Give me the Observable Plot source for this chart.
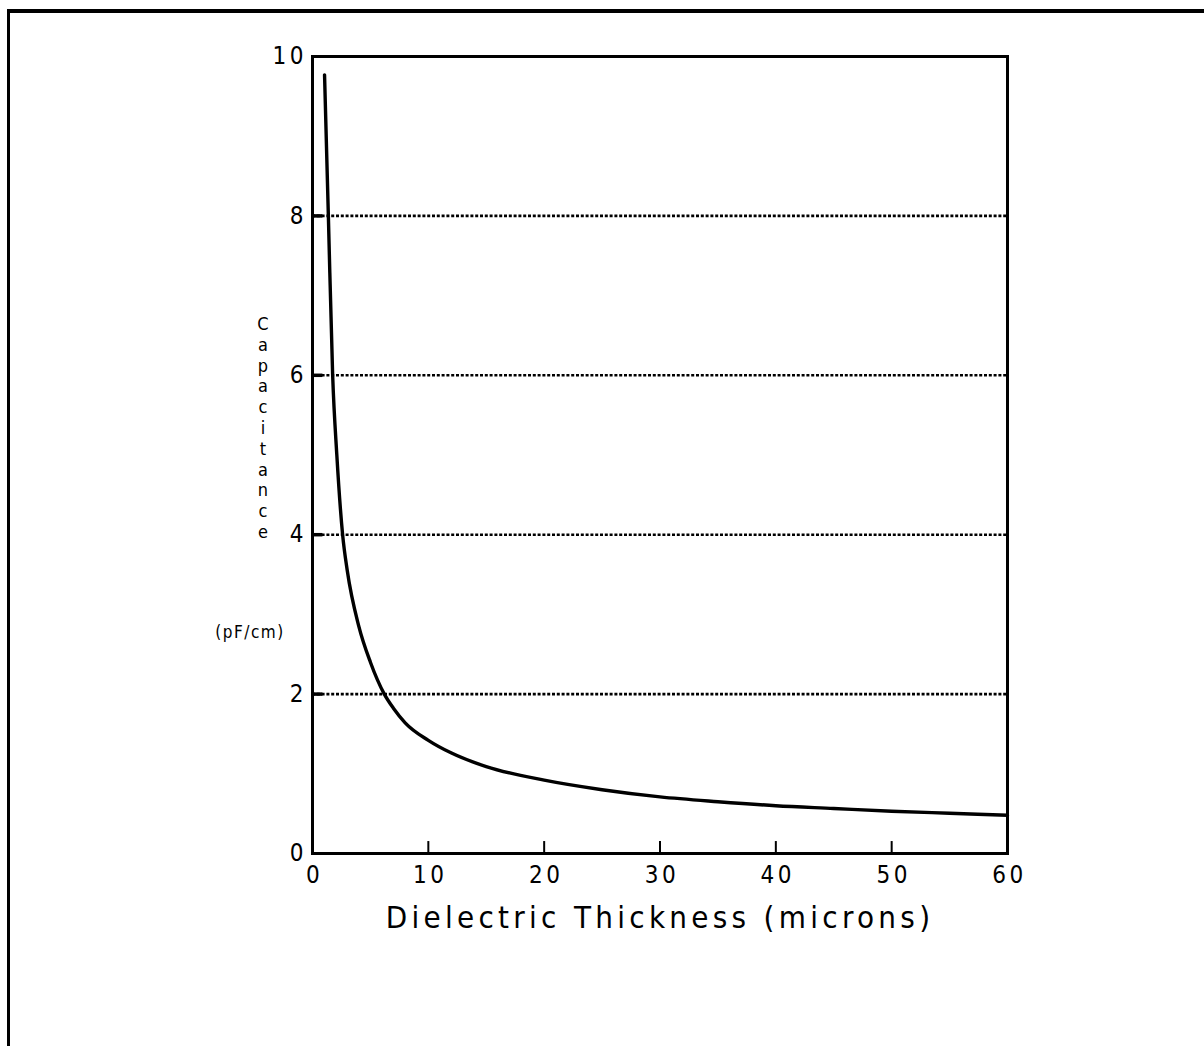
<!DOCTYPE html>
<html>
<head>
<meta charset="utf-8">
<script src="https://cdn.jsdelivr.net/npm/d3@7"></script>
<script src="https://cdn.jsdelivr.net/npm/@observablehq/plot@0.6"></script>
<style>
  html, body { margin: 0; padding: 0; background: #fff; }
  #wrap { position: relative; width: 1204px; height: 1046px; overflow: hidden; }
  #border { position: absolute; left: 7px; top: 9px; right: -10px; bottom: -10px;
            border-top: 4px solid #000; border-left: 3px solid #000; pointer-events: none; }
</style>
</head>
<body>
<div id="wrap"><div id="border"></div></div>
<script>
// Dielectric thickness (microns) and capacitance (pF/cm)
const thickness   = [1.04, 1.37, 1.74, 2.1, 2.6, 3.0, 4.0, 5.0, 6.2, 7.0, 8.0, 10, 12, 15, 20, 25, 30, 35, 40, 45, 50, 55, 60];
const capacitance = [9.77, 8.0, 6.0, 5.0, 4.0, 3.55, 2.85, 2.4, 2.0, 1.82, 1.64, 1.42, 1.26, 1.09, 0.92, 0.8, 0.71, 0.65, 0.60, 0.565, 0.53, 0.505, 0.48];
const xTicks = [0, 10, 20, 30, 40, 50, 60];
const yTicks = [0, 2, 4, 6, 8, 10];
const gridLevels = [2, 4, 6, 8];
const innerXTicks = [10, 20, 30, 40, 50];
const xLabel = "Dielectric Thickness (microns)";
const yLabelWord = "Capacitance";
const yLabelUnit = "(pF/cm)";

const data = thickness.map((d, i) => ({d, c: capacitance[i]}));
const font = "'DejaVu Sans Condensed', 'DejaVu Sans', sans-serif";

const chart = Plot.plot({
  width: 1204,
  height: 1046,
  marginLeft: 312,
  marginRight: 197,
  marginTop: 56,
  marginBottom: 193,
  style: {fontFamily: font, fontSize: "22px", color: "#000", background: "transparent"},
  x: {domain: [0, 60]},
  y: {domain: [0, 10]},
  marks: [
    Plot.ruleY(gridLevels, {stroke: "#000", strokeWidth: 2.6, strokeDasharray: "3,1.8"}),
    Plot.ruleY(gridLevels, {x1: 0, x2: 0.9, stroke: "#000", strokeWidth: 3.5}),
    Plot.ruleX(innerXTicks, {y1: 0, y2: 0.15, stroke: "#000", strokeWidth: 2}),
    Plot.frame({stroke: "#000", strokeWidth: 3}),
    Plot.line(data, {x: "d", y: "c", curve: "monotone-x", stroke: "#000", strokeWidth: 3.4}),
    Plot.axisX(xTicks, {tickSize: 0, tickPadding: 12, label: null, tickFormat: "d", fontSize: 24}),
    Plot.axisY(yTicks, {tickSize: 0, tickPadding: 9, label: null, tickFormat: "d", fontSize: 24})
  ]
});

document.getElementById("wrap").prepend(chart);

const svg = d3.select(chart);
// widely spaced digits as in the original print
svg.selectAll("g[aria-label='x-axis tick label'] text").attr("letter-spacing", 3.5).attr("dx", 2);
svg.selectAll("g[aria-label='y-axis tick label'] text").attr("letter-spacing", 3.5).attr("dx", 3.5);

// axis titles
svg.append("text")
  .attr("x", 660).attr("y", 928)
  .attr("text-anchor", "middle")
  .attr("font-family", font)
  .attr("font-size", 31)
  .attr("letter-spacing", 4.3)
  .attr("fill", "#000")
  .text(xLabel);

const yl = svg.append("text")
  .attr("font-family", font)
  .attr("font-size", 18)
  .attr("text-anchor", "middle")
  .attr("fill", "#000");
yLabelWord.split("").forEach((ch, i) => {
  yl.append("tspan").attr("x", 263).attr("y", 330 + i * 20.8).text(ch);
});
svg.append("text")
  .attr("x", 250).attr("y", 638)
  .attr("text-anchor", "middle")
  .attr("font-family", font)
  .attr("font-size", 17)
  .attr("letter-spacing", 1.5)
  .attr("fill", "#000")
  .text(yLabelUnit);
</script>
</body>
</html>
